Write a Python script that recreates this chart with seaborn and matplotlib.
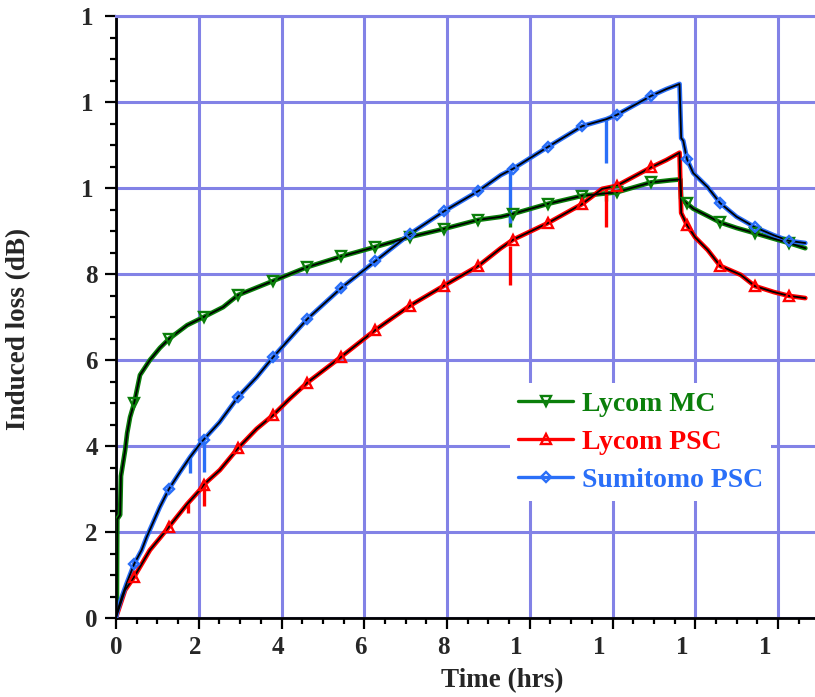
import numpy as np
import pandas as pd
import matplotlib
matplotlib.use("Agg")
import matplotlib.pyplot as plt
import matplotlib.transforms as mtransforms
from matplotlib.lines import Line2D
from matplotlib.ticker import MultipleLocator
import seaborn as sns

# ---- Lycom MC (multimode) ----
t_mc = [0.0, 0.02, 0.03, 0.1, 0.12, 0.22, 0.27, 0.34, 0.44, 0.58, 0.82, 1.06,
        1.28, 1.72, 2.12, 2.59, 2.95, 3.8, 4.62, 5.45, 6.27, 7.1, 7.93, 8.76,
        9.3, 9.6, 10.43, 11.27, 12.1, 12.93, 13.4, 13.64, 13.66, 13.8, 13.95,
        14.3, 14.6, 15.0, 15.44, 15.9, 16.27, 16.66]
loss_mc = [0.0, 0.2, 2.3, 2.4, 3.3, 3.9, 4.3, 4.67, 5.0, 5.65, 6.0, 6.28,
           6.49, 6.81, 7.0, 7.23, 7.51, 7.84, 8.16, 8.41, 8.63, 8.86, 9.05, 9.26,
           9.33, 9.4, 9.63, 9.82, 9.9, 10.13, 10.18, 10.2, 9.75, 9.64, 9.52,
           9.35, 9.2, 9.07, 8.95, 8.82, 8.72, 8.6]
spike_t_mc = [9.53, 11.85]
spike_hi_mc = [9.36, 9.86]
spike_lo_mc = [9.1, 9.7]

# ---- Lycom PSC ----
t_ps = [0.0, 0.02, 0.22, 0.44, 0.82, 1.06, 1.28, 1.72, 2.03, 2.12, 2.51, 2.95,
        3.4, 3.8, 4.2, 4.62, 5.45, 6.27, 7.1, 7.93, 8.76, 9.3, 9.6, 10.43,
        11.27, 11.75, 12.1, 12.93, 13.3, 13.62, 13.66, 13.8, 14.0, 14.3, 14.6,
        15.1, 15.44, 15.9, 16.27, 16.66]
loss_ps = [0.0, 0.07, 0.65, 0.96, 1.58, 1.86, 2.12, 2.65, 2.98, 3.1, 3.44, 3.95,
           4.4, 4.72, 5.1, 5.47, 6.08, 6.7, 7.26, 7.73, 8.19, 8.6, 8.8, 9.18,
           9.63, 9.98, 10.05, 10.48, 10.65, 10.82, 9.42, 9.14, 8.85, 8.56, 8.19,
           7.98, 7.72, 7.58, 7.49, 7.44]
spike_t_ps = [1.74, 2.12, 9.53, 11.85]
spike_hi_ps = [2.7, 3.12, 8.66, 10.0]
spike_lo_ps = [2.45, 2.6, 7.74, 9.09]

# ---- Sumitomo PSC ----
t_su = [0.0, 0.02, 0.14, 0.26, 0.44, 0.62, 0.74, 1.06, 1.28, 1.55, 1.79, 2.03,
        2.12, 2.5, 2.95, 3.4, 3.8, 4.2, 4.62, 5.45, 6.27, 7.1, 7.93, 8.76,
        9.3, 9.6, 10.43, 11.27, 11.85, 12.1, 12.93, 13.3, 13.62, 13.66, 13.71,
        13.8, 13.95, 14.3, 14.6, 15.0, 15.44, 15.9, 16.27, 16.66]
loss_su = [0.0, 0.12, 0.49, 0.81, 1.26, 1.58, 1.88, 2.58, 3.0, 3.4, 3.74, 4.05,
           4.15, 4.55, 5.14, 5.6, 6.07, 6.5, 6.95, 7.68, 8.3, 8.93, 9.46, 9.93,
           10.3, 10.45, 10.95, 11.44, 11.6, 11.7, 12.14, 12.3, 12.42, 11.16, 11.1,
           10.67, 10.35, 10.02, 9.65, 9.33, 9.09, 8.9, 8.77, 8.72]
spike_t_su = [1.79, 2.12, 9.53, 11.85]
spike_hi_su = [3.75, 4.12, 10.4, 11.6]
spike_lo_su = [3.38, 3.4, 9.19, 10.58]

# symbols are placed every 0.835 h along each record
mark_t = [0.44, 1.28, 2.12, 2.95, 3.8, 4.62, 5.45, 6.27, 7.1, 7.93, 8.76,
          9.6, 10.43, 11.27, 12.1, 12.93, 13.8, 14.6, 15.44, 16.27]

x_ticks = [0, 2, 4, 6, 8, 10, 12, 14, 16]
x_tick_labels = ["0", "2", "4", "6", "8", "1", "1", "1", "1"]
y_ticks = [0, 2, 4, 6, 8, 10, 12, 14]
y_tick_labels = ["0", "2", "4", "6", "8", "1", "1", "1"]

GREEN = "#0b7f0b"
RED = "#ff0000"
BLUE = "#2a6ff8"
GRID = "#8282e6"

series = [
    ("Lycom MC", t_mc, loss_mc, spike_t_mc, spike_hi_mc, spike_lo_mc, GREEN, "v"),
    ("Lycom PSC", t_ps, loss_ps, spike_t_ps, spike_hi_ps, spike_lo_ps, RED, "^"),
    ("Sumitomo PSC", t_su, loss_su, spike_t_su, spike_hi_su, spike_lo_su, BLUE, "D"),
]

sns.set_theme(style="white")
plt.rcParams["font.family"] = ["Liberation Serif", "DejaVu Serif"]
plt.rcParams["font.weight"] = "bold"

fig = plt.figure(figsize=(8.15, 6.97), dpi=100)
ax = fig.add_axes([116 / 815, 79 / 697, 699 / 815, 602 / 697])

for name, t, loss, st, shi, slo, color, mk in series:
    df = pd.DataFrame({"time": t, "loss": loss})
    # measured record (coloured) with its transient drop-outs
    sns.lineplot(data=df, x="time", y="loss", ax=ax, color=color, lw=3.4,
                 estimator=None, sort=False, zorder=3)
    ax.vlines(st, slo, shi, colors=color, lw=2.4, zorder=3)
    # smoothed trace drawn over it
    sns.lineplot(data=df, x="time", y="loss", ax=ax, color="black", lw=1.3,
                 estimator=None, sort=False, zorder=4)
    idx = [int(np.argmin(np.abs(np.asarray(t) - m))) for m in mark_t]
    mk_df = df.iloc[idx]
    ax.plot(mk_df["time"], mk_df["loss"], ls="none", marker=mk,
            ms=6.5 if mk != "D" else 4.8, mfc="none", mec=color, mew=1.7,
            zorder=5)

ax.set_xlim(0, 699 / 41.375)
ax.set_ylim(0, 14)
ax.set_xticks(x_ticks)
ax.set_xticklabels(x_tick_labels)
ax.set_yticks(y_ticks)
ax.set_yticklabels(y_tick_labels)
ax.xaxis.set_minor_locator(MultipleLocator(0.5))
ax.yaxis.set_minor_locator(MultipleLocator(0.5))

ax.set_axisbelow(True)
ax.grid(True, which="major", color=GRID, lw=2.2)
ax.tick_params(axis="both", which="major", direction="out", length=8, width=1.6,
               color="black", labelsize=18, pad=5)
ax.tick_params(axis="both", which="minor", direction="out", length=4.5, width=1.6,
               color="black")
ax.tick_params(axis="x", which="both", bottom=True)
ax.tick_params(axis="y", which="both", left=True)

for side in ("left", "bottom"):
    ax.spines[side].set_color("black")
    ax.spines[side].set_linewidth(2.0)
ax.spines["right"].set_visible(False)
ax.spines["top"].set_color(GRID)
ax.spines["top"].set_linewidth(2.2)

# shift tick labels to their printed positions
for lab in ax.get_xticklabels():
    dx = -13 if lab.get_text() == "1" else (-4 if lab.get_text() != "0" else 0)
    lab.set_transform(lab.get_transform() +
                      mtransforms.ScaledTranslation(dx / 100, 0, fig.dpi_scale_trans))
for lab in ax.get_yticklabels():
    if lab.get_text() == "1":
        lab.set_transform(lab.get_transform() +
                          mtransforms.ScaledTranslation(-4 / 100, 0, fig.dpi_scale_trans))

ax.set_xlabel("Time (hrs)", fontsize=19.5, fontweight="bold")
ax.set_ylabel("Induced loss (dB)", fontsize=19.5, fontweight="bold")
ax.xaxis.set_label_coords(0.552, -0.083)
ax.yaxis.set_label_coords(-0.122, 0.48)

handles = [Line2D([0], [0], color=c, lw=2.4, marker=m,
                  ms=6.5 if m != "D" else 4.8, mfc="none", mec=c, mew=1.7)
           for _, _, _, _, _, _, c, m in series]
leg = ax.legend(handles, [s[0] for s in series], loc="upper left",
                bbox_to_anchor=(0.563, 0.39), frameon=True, facecolor="white",
                edgecolor="none", framealpha=1, fancybox=False,
                prop={"size": 20, "weight": "bold"}, handlelength=2.0,
                handletextpad=0.3, labelspacing=0.45, borderpad=0.3,
                borderaxespad=0)
for txt, s in zip(leg.get_texts(), series):
    txt.set_color(s[6])
leg.set_zorder(10)

fig.savefig("out.png", dpi=100)
